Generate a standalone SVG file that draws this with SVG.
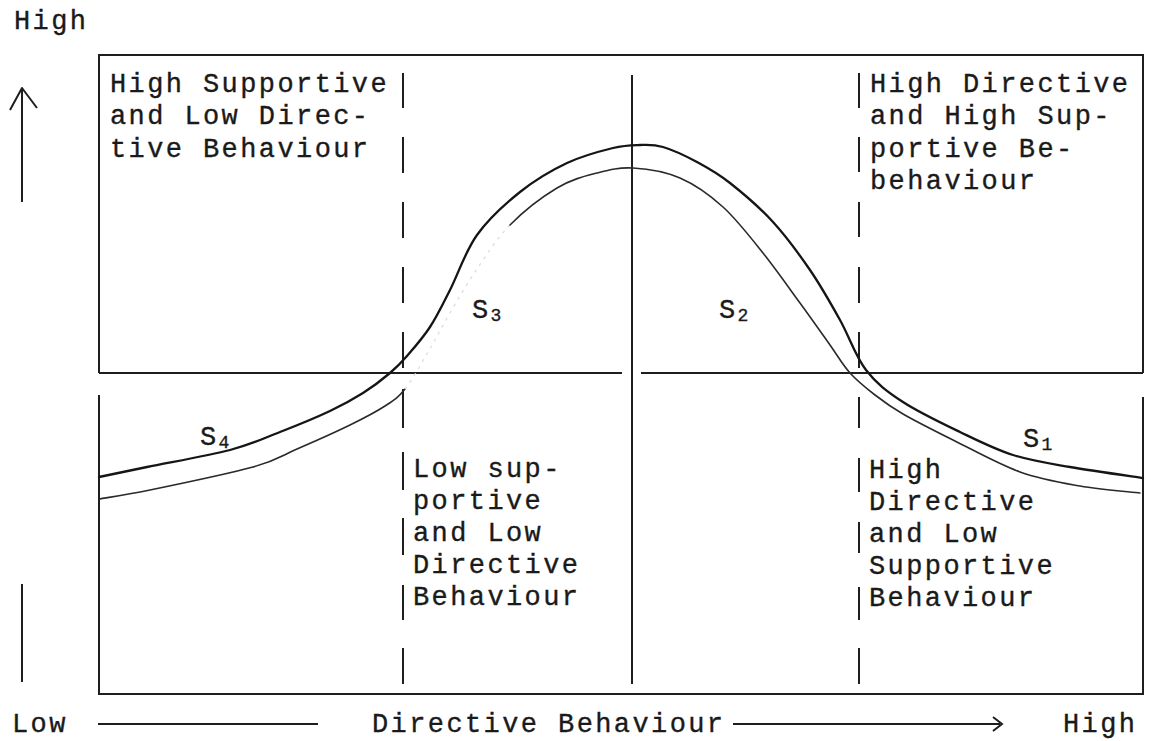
<svg xmlns="http://www.w3.org/2000/svg" width="1159" height="741" viewBox="0 0 1159 741">
<style>
.t{font-family:"Liberation Mono","DejaVu Sans Mono",monospace;font-size:27px;letter-spacing:2.4px;fill:#1a1a1a;stroke:#1a1a1a;stroke-width:0.35px}
.sub{font-size:18px;letter-spacing:0}
.ln{stroke:#1e1e1e;stroke-width:2;fill:none;stroke-linecap:butt}
.outer{stroke:#151515;stroke-width:2.3;fill:none;stroke-linecap:round;stroke-linejoin:round}
.inner{stroke:#2a2a2a;stroke-width:1.6;fill:none;stroke-linecap:round}
.faint{stroke:#dadada;stroke-width:1.2;fill:none;stroke-dasharray:3 5}
</style>
<rect width="1159" height="741" fill="#ffffff"/>
<g id="frame">
<path class="ln" d="M99,373 V55 H1143 V373"/>
<path class="ln" d="M99,373 H622 M641,373 H1143"/>
<path class="ln" d="M99,395 V694 H1143 V397"/>
<path class="ln" d="M632,75 V684"/>
<path class="ln" d="M403,73 V108 M403,137 V173 M403,202 V238 M403,267 V303 M403,332 V368 M403,389 V428 M403,452 V490 M403,518 V555 M403,585 V620 M403,648 V684"/>
<path class="ln" d="M859,73 V108 M859,137 V172 M859,202 V237 M859,267 V303 M859,332 V368 M859,397 V428 M859,458 V492 M859,522 V553 M859,587 V620 M859,648 V684"/>
</g>
<g id="axes">
<path class="ln" d="M22,88 V202 M22,584 V682"/>
<path class="ln" d="M10,110 L22,88 L37,108" stroke-linejoin="round"/>
<path class="ln" d="M98,724 H318 M733,724 H1000" stroke-width="1.6"/>
<path class="ln" d="M993,717 L1002,724 L993,731" stroke-width="1.6"/>
<text class="t" x="14" y="29">High</text>
<text class="t" x="12" y="732">Low</text>
<text class="t" x="372" y="732">Directive Behaviour</text>
<text class="t" x="1063" y="732">High</text>
</g>
<g id="curves">
<path class="outer" d="M99,477 C107,475.3 125.2,471.5 147,467 C168.8,462.5 207.8,455.8 230,450 C252.2,444.2 263.3,438.5 280,432 C296.7,425.5 316.2,417.5 330,411 C343.8,404.5 353,399.3 363,393 C373,386.7 382.7,379.2 390,373 C397.3,366.8 400.3,363.7 407,356 C413.7,348.3 422.8,338 430,327 C437.2,316 442.2,305.3 450,290 C457.8,274.7 465.3,251.3 477,235 C488.7,218.7 505,204 520,192 C535,180 551.5,170.3 567,163 C582.5,155.7 600.8,151 613,148 C625.2,145 631.7,145.2 640,145 C648.3,144.8 653.5,144.2 663,147 C672.5,149.8 685.8,156 697,162 C708.2,168 717.3,173 730,183 C742.7,193 759.7,207.5 773,222 C786.3,236.5 798.8,253.7 810,270 C821.2,286.3 830.7,303.3 840,320 C849.3,336.7 855.5,356.3 866,370 C876.5,383.7 887.3,391.7 903,402 C918.7,412.3 941.7,423.2 960,432 C978.3,440.8 994.7,449.2 1013,455 C1031.3,460.8 1048.3,463.2 1070,467 C1091.7,470.8 1130.8,476.2 1143,478"/>
<path class="inner" d="M99,499 C107.5,497.5 124.3,495.3 150,490 C175.7,484.7 228.5,473.8 253,467 C277.5,460.2 280.8,456 297,449 C313.2,442 335.3,432.2 350,425 C364.7,417.8 375.8,412 385,406 C394.2,400 397.8,398 405,389"/>
<path class="faint" d="M405,389 C412.2,380 420.5,364.7 428,352 C435.5,339.3 442.2,326.3 450,313 C457.8,299.7 465,286.7 475,272 C485,257.3 496.3,239 510,225"/>
<path class="inner" d="M510,225 C523.7,211 542.5,196.7 557,188 C571.5,179.3 584.3,176.3 597,173 C609.7,169.7 619.2,167.2 633,168 C646.8,168.8 665,171.5 680,178 C695,184.5 709.2,194.5 723,207 C736.8,219.5 750.2,237 763,253 C775.8,269 788.8,287.7 800,303 C811.2,318.3 821.7,333.3 830,345 C838.3,356.7 842.5,364.7 850,373 C857.5,381.3 866.2,388.2 875,395 C883.8,401.8 889.7,406.3 903,414 C916.3,421.7 935.5,431.3 955,441 C974.5,450.7 999.2,464.5 1020,472 C1040.8,479.5 1060,482.5 1080,486 C1100,489.5 1130,491.8 1140,493"/>
</g>
<g id="labels-s">
<text class="t" x="472" y="318">S<tspan class="sub" dy="3">3</tspan></text>
<text class="t" x="719" y="318">S<tspan class="sub" dy="3">2</tspan></text>
<text class="t" x="200" y="445">S<tspan class="sub" dy="3">4</tspan></text>
<text class="t" x="1023" y="447">S<tspan class="sub" dy="3">1</tspan></text>
</g>
<g id="q-high-supportive">
<text class="t" x="110" y="92">High Supportive</text>
<text class="t" x="110" y="124">and Low Direc-</text>
<text class="t" x="110" y="157">tive Behaviour</text>
</g>
<g id="q-high-directive-supportive">
<text class="t" x="870" y="92">High Directive</text>
<text class="t" x="870" y="124">and High Sup-</text>
<text class="t" x="870" y="157">portive Be-</text>
<text class="t" x="870" y="189">behaviour</text>
</g>
<g id="q-low-supportive">
<text class="t" x="413" y="477">Low sup-</text>
<text class="t" x="413" y="509">portive</text>
<text class="t" x="413" y="541">and Low</text>
<text class="t" x="413" y="573">Directive</text>
<text class="t" x="413" y="605">Behaviour</text>
</g>
<g id="q-high-directive">
<text class="t" x="869" y="478">High</text>
<text class="t" x="869" y="510">Directive</text>
<text class="t" x="869" y="542">and Low</text>
<text class="t" x="869" y="574">Supportive</text>
<text class="t" x="869" y="606">Behaviour</text>
</g>
</svg>
